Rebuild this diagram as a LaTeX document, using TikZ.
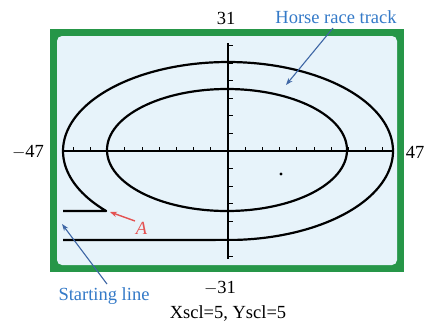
\documentclass[tikz,border=0pt]{standalone}
\usepackage{fontspec}
\setmainfont{Liberation Serif}
\usetikzlibrary{arrows.meta}
\definecolor{framegreen}{RGB}{38,150,72}
\definecolor{panelblue}{RGB}{231,243,250}
\definecolor{lblblue}{RGB}{52,122,200}
\definecolor{arrblue}{RGB}{62,102,165}
\definecolor{ared}{RGB}{228,82,82}
\tikzset{
  lbl/.style={inner sep=0pt, font=\fontsize{18.5}{21}\selectfont},
  bluelbl/.style={lbl, text=lblblue},
  axisline/.style={black, line width=1.1pt},
  tickline/.style={black, line width=0.9pt},
  trackline/.style={black, line width=2.2pt, line join=round},
  callout/.style={arrblue, line width=1.1pt, -{Stealth[length=7pt,width=5pt]}},
  redcallout/.style={ared, line width=1.4pt, -{Stealth[length=7pt,width=5.5pt]}}
}
\begin{document}
\begin{tikzpicture}[x=1pt,y=-1pt]
\useasboundingbox (0,0) rectangle (425,322);
\fill[white] (0,0) rectangle (425,322);
% screen frame
\fill[framegreen] (50,29) rectangle (404,272);
\fill[panelblue, rounded corners=5pt] (57,36) rectangle (397,265);
% axes
\draw[axisline] (63,151) -- (393,151);
\draw[axisline] (228,43) -- (228,259);
\foreach \k in {1,...,9}{
  \draw[tickline] ({228+17.2*\k},151) -- ++(0,-4.5);
  \draw[tickline] ({228-17.2*\k},151) -- ++(0,-4.5);
}
\foreach \k in {1,...,6}{
  \draw[tickline] (228,{151-17.6*\k}) -- ++(5,0);
  \draw[tickline] (228,{151+17.6*\k}) -- ++(5,0);
}
% track
\draw[trackline] (227,150) ellipse [x radius=120pt, y radius=61pt];
\coordinate (startL) at (63,240);
\coordinate (aL) at (63,211);
\draw[trackline] (startL) -- plot[domain=-87:222.4, samples=150] ({228+165*cos(\x)},{151-89*sin(\x)}) -- (aL);
\fill (281,174) circle (1.6pt);
% window labels
\node[lbl] (ymax) at (226,18) {31};
\node[lbl] (ymin) at (220,288) {$-$31};
\node[lbl] (xmin) at (28,152) {$-$47};
\node[lbl, anchor=east] (xmax) at (424.5,152) {47};
\node[lbl] (scl) at (228,313) {Xscl=5, Yscl=5};
% callouts
\node[bluelbl] (track) at (336,17) {Horse race track};
\node[bluelbl] (start) at (104,296) {Starting line};
\node[lbl, text=ared, font=\fontsize{18.5}{21}\selectfont\itshape] (A) at (141.5,228) {A};
\coordinate (trackFrom) at (333,28);
\coordinate (trackTo) at (286,85);
\coordinate (startFrom) at (107,284);
\coordinate (startTo) at (62,224);
\coordinate (aFrom) at (135,221);
\coordinate (aTo) at (110,212);
\draw[callout] (trackFrom) -- (trackTo);
\draw[callout] (startFrom) -- (startTo);
\draw[redcallout] (aFrom) -- (aTo);
\end{tikzpicture}
\end{document}
